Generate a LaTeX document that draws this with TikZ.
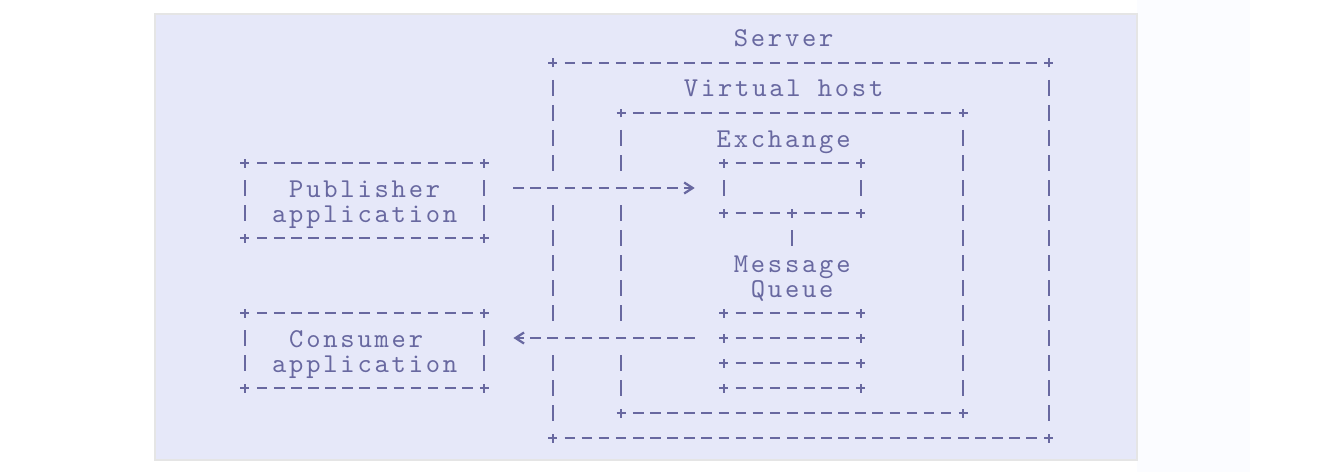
\documentclass[tikz,border=0pt]{standalone}
\usepackage{fontspec}
\setmonofont{lmmono10-regular}[Extension=.otf, LetterSpace=10.2]
\usetikzlibrary{arrows.meta,fit}

\definecolor{ink}{RGB}{104,104,160}
\definecolor{panel}{RGB}{230,232,249}
\definecolor{glare}{RGB}{251,252,255}

\begin{document}
\begin{tikzpicture}[
      x=0.342cm,
      y=-0.5cm,
      txt/.style={
        font=\ttfamily\fontsize{15.5pt}{15.5pt}\selectfont,
        text=ink,
        inner sep=0pt,
        text height=0.40cm,
        text depth=0.04cm
      },
      box/.style={inner sep=0pt, outer sep=0pt},
      hrule/.style={
        draw=ink,
        line width=0.045cm,
        dash pattern=on 0.212cm off 0.130cm,
        dash phase=0.277cm,
        shorten <=0.171cm,
        shorten >=0.171cm
      },
      vrule/.style={
        draw=ink,
        line width=0.04cm,
        dash pattern=on 0.32cm off 0.18cm,
        dash phase=0.41cm,
        shorten <=0.25cm,
        shorten >=0.25cm
      },
      flow/.style={
        draw=ink,
        line width=0.045cm,
        dash pattern=on 0.212cm off 0.130cm,
        dash phase=0.277cm,
        shorten <=0.513cm,
        shorten >=0.581cm,
        -{Straight Barb[length=0.17cm,width=0.22cm]},
        preaction={draw=panel, solid, line width=0.38cm, arrows=-}
      },
      plus/.pic={
        \draw[ink, line width=0.04cm] (-0.09cm,0) -- (0.09cm,0) (0,-0.09cm) -- (0,0.09cm);
      }
    ]
    \useasboundingbox (-4.9cm,0.76cm) rectangle (21.82cm,-8.68cm);
    \fill[white] (-4.9cm,0.76cm) rectangle (21.82cm,-8.68cm);
    \fill[glare] (17.84cm,0.76cm) rectangle (20.1cm,-8.68cm);
    \filldraw[
      fill=panel,
      draw=black!10,
      line width=0.05cm
    ] (-1.8cm,0.48cm) rectangle (17.84cm,-8.44cm);

    \node[box, fit={(0,5) (14,8)}] (pub) {};
    \node[box, fit={(0,11) (14,14)}] (con) {};
    \node[box, fit={(18,1) (47,16)}] (srv) {};
    \node[box, fit={(22,3) (42,15)}] (vh) {};
    \node[box, fit={(28,5) (36,7)}] (ex) {};
    \node[box, fit={(28,11) (36,14)}] (queue) {};

    \node[txt] (srvlbl) at (31.5,0) {Server};
    \node[txt] (vhlbl) at (31.5,2) {Virtual host};
    \node[txt] (exlbl) at (31.5,4) {Exchange};
    \node[txt] (pubtxt) at (7,6) {Publisher};
    \node[txt] (pubapp) at (7,7) {application};
    \coordinate (mq) at (32,9);
    \node[txt] (mqlbl) at (mq) {Message};
    \node[txt] (mqlbl2) at (32,10) {Queue};
    \node[txt] (contxt) at (6.5,12) {Consumer};
    \node[txt] (conapp) at (7,13) {application};

    \foreach \b in {pub,con,srv,vh,ex} {
      \draw[hrule] (\b.north west) -- (\b.north east);
      \draw[hrule] (\b.south west) -- (\b.south east);
      \draw[vrule] (\b.north west) -- (\b.south west);
      \draw[vrule] (\b.north east) -- (\b.south east);
      \pic at (\b.north west) {plus};
      \pic at (\b.north east) {plus};
      \pic at (\b.south west) {plus};
      \pic at (\b.south east) {plus};
    }

    \foreach \r in {11,...,14} {
      \draw[hrule] (queue.west |- 0,\r) -- (queue.east |- 0,\r);
      \pic at (queue.west |- 0,\r) {plus};
      \pic at (queue.east |- 0,\r) {plus};
    }

    \pic at (ex.south) {plus};
    \draw[vrule] (ex.south) -- (mq);

    \draw[flow] (pubtxt -| pub.east) -- (pubtxt -| ex.west);
    \draw[flow] (contxt -| queue.west) -- (contxt -| con.east);
  \end{tikzpicture}
\end{document}
